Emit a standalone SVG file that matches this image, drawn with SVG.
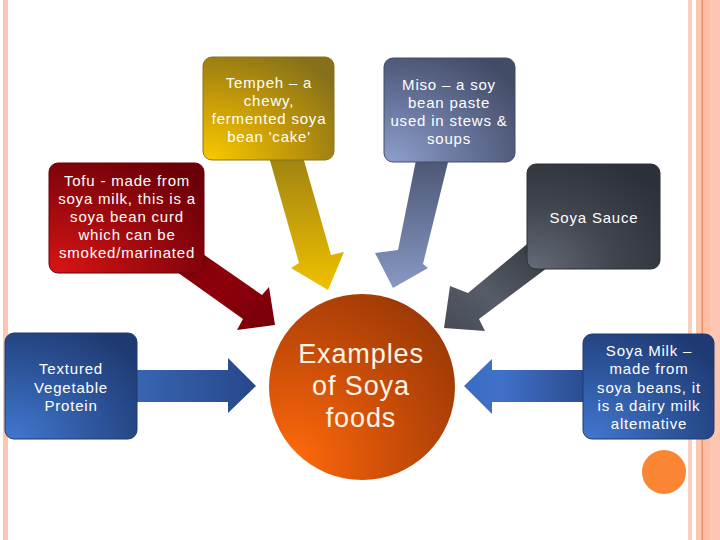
<svg xmlns="http://www.w3.org/2000/svg" width="720" height="540" viewBox="0 0 720 540">
<defs>
<style>
.t{font-family:"Liberation Sans",Arial,sans-serif;font-size:15px;fill:#ffffff;text-anchor:middle;letter-spacing:0.8px}
.c{font-family:"Liberation Sans",Arial,sans-serif;font-size:27px;fill:#fff6e8;text-anchor:middle;letter-spacing:0.9px}
.box{stroke-width:1}
</style>
<radialGradient id="gGold" cx="0.05" cy="1" r="1.2" fx="0.05" fy="1"><stop offset="0" stop-color="#f8c800"/><stop offset="0.5" stop-color="#c49a08"/><stop offset="1" stop-color="#86701a"/></radialGradient>
<radialGradient id="gMiso" cx="0.05" cy="1" r="1.2" fx="0.05" fy="1"><stop offset="0" stop-color="#8e9ecb"/><stop offset="0.5" stop-color="#66739a"/><stop offset="1" stop-color="#434c66"/></radialGradient>
<radialGradient id="gRed" cx="0.05" cy="1" r="1.2" fx="0.05" fy="1"><stop offset="0" stop-color="#d81414"/><stop offset="0.5" stop-color="#a00a0e"/><stop offset="1" stop-color="#6c0008"/></radialGradient>
<radialGradient id="gSauce" cx="0.05" cy="1" r="1.2" fx="0.05" fy="1"><stop offset="0" stop-color="#646a76"/><stop offset="0.5" stop-color="#40454e"/><stop offset="1" stop-color="#2c3038"/></radialGradient>
<radialGradient id="gBlue" cx="0.05" cy="1" r="1.2" fx="0.05" fy="1"><stop offset="0" stop-color="#4077cf"/><stop offset="0.5" stop-color="#2f58a0"/><stop offset="1" stop-color="#1f3a72"/></radialGradient>
<radialGradient id="gCirc" cx="0.12" cy="0.9" r="1.1" fx="0.12" fy="0.9"><stop offset="0" stop-color="#ff6a0c"/><stop offset="0.5" stop-color="#cc4e08"/><stop offset="1" stop-color="#9a3806"/></radialGradient>
<linearGradient id="aGold" x1="0" y1="0" x2="0" y2="1"><stop offset="0" stop-color="#9c8012"/><stop offset="1" stop-color="#f0c000"/></linearGradient>
<linearGradient id="aMiso" x1="0" y1="0" x2="0" y2="1"><stop offset="0" stop-color="#48526e"/><stop offset="1" stop-color="#8898c4"/></linearGradient>
<linearGradient id="aRed" x1="0" y1="0" x2="1" y2="1"><stop offset="0" stop-color="#7e0008"/><stop offset="0.5" stop-color="#8c000c"/><stop offset="1" stop-color="#760006"/></linearGradient>
<linearGradient id="aSauce" x1="1" y1="0" x2="0" y2="1"><stop offset="0" stop-color="#2e3239"/><stop offset="0.6" stop-color="#565c68"/><stop offset="1" stop-color="#464b55"/></linearGradient>
<linearGradient id="aTvp" x1="0" y1="0" x2="1" y2="0"><stop offset="0" stop-color="#3966b4"/><stop offset="1" stop-color="#27488a"/></linearGradient>
<linearGradient id="aMilk" x1="0" y1="0" x2="1" y2="0"><stop offset="0" stop-color="#3a6cc4"/><stop offset="0.3" stop-color="#4070c8"/><stop offset="1" stop-color="#2a4a8c"/></linearGradient>
</defs>
<rect x="0" y="0" width="720" height="540" fill="#ffffff"/>
<g id="border">
<rect x="3" y="0" width="5" height="540" fill="#f8c6b3"/>
<rect x="688" y="0" width="4" height="540" fill="#f9d0c0"/>
<rect x="696" y="0" width="24" height="540" fill="#fcc6b2"/>
<rect x="703" y="0" width="7" height="540" fill="#ffbda3"/>
<rect x="701.5" y="0" width="1.5" height="540" fill="#e6926a"/>
</g>
<g id="connectors">
<polygon points="267,150 299,263 291,268 328,290 344,252 331,255 301,150" fill="url(#aGold)"/>
<polygon points="418,150 398,250 375,253 393,288 428,268 423,264 451,150" fill="url(#aMiso)"/>
<polygon points="190,245 262,295 269,287 275,325 237,330 243,319 170,267" fill="url(#aRed)"/>
<polygon points="532,240 468,293 450,286 444,328 485,331 479,319 555,262" fill="url(#aSauce)"/>
<polygon points="130,370 228,370 228,358 256,386 228,413 228,402 130,402" fill="url(#aTvp)"/>
<polygon points="590,370 492,370 492,359 464,386 492,414 492,402 590,402" fill="url(#aMilk)"/>
</g>
<g id="tempeh">
<rect class="box" x="203" y="57" width="131" height="103" rx="9" fill="url(#gGold)" stroke="#8a7414"/>
<text class="t" x="269" y="88">Tempeh – a</text>
<text class="t" x="269" y="106">chewy,</text>
<text class="t" x="269" y="124">fermented soya</text>
<text class="t" x="269" y="142">bean 'cake'</text>
</g>
<g id="miso">
<rect class="box" x="384" y="58" width="131" height="104" rx="9" fill="url(#gMiso)" stroke="#454e66"/>
<text class="t" x="449" y="90">Miso – a soy</text>
<text class="t" x="449" y="108">bean paste</text>
<text class="t" x="449" y="126">used in stews &amp;</text>
<text class="t" x="449" y="144">soups</text>
</g>
<g id="tofu">
<rect class="box" x="49" y="163" width="155" height="110" rx="9" fill="url(#gRed)" stroke="#6a0008"/>
<text class="t" x="127" y="186">Tofu - made from</text>
<text class="t" x="127" y="204">soya milk, this is a</text>
<text class="t" x="127" y="222">soya bean curd</text>
<text class="t" x="127" y="240">which can be</text>
<text class="t" x="127" y="258">smoked/marinated</text>
</g>
<g id="sauce">
<rect class="box" x="527" y="164" width="133" height="105" rx="9" fill="url(#gSauce)" stroke="#2c3036"/>
<text class="t" x="594" y="223">Soya Sauce</text>
</g>
<g id="tvp">
<rect class="box" x="5" y="333" width="132" height="106" rx="9" fill="url(#gBlue)" stroke="#1f3a70"/>
<text class="t" x="71" y="374">Textured</text>
<text class="t" x="71" y="392.5">Vegetable</text>
<text class="t" x="71" y="411">Protein</text>
</g>
<g id="milk">
<rect class="box" x="583" y="334" width="131" height="105" rx="9" fill="url(#gBlue)" stroke="#1f3a70"/>
<text class="t" x="649" y="356">Soya Milk –</text>
<text class="t" x="649" y="374">made from</text>
<text class="t" x="649" y="392.5">soya beans, it</text>
<text class="t" x="649" y="411">is a dairy milk</text>
<text class="t" x="649" y="429">altemative</text>
</g>
<g id="center">
<circle cx="362" cy="387" r="93" fill="url(#gCirc)"/>
<text class="c" x="361" y="363">Examples</text>
<text class="c" x="361" y="395">of Soya</text>
<text class="c" x="361" y="427">foods</text>
</g>
<g id="dot">
<circle cx="664" cy="472" r="22" fill="#fa8532"/>
</g>
</svg>
